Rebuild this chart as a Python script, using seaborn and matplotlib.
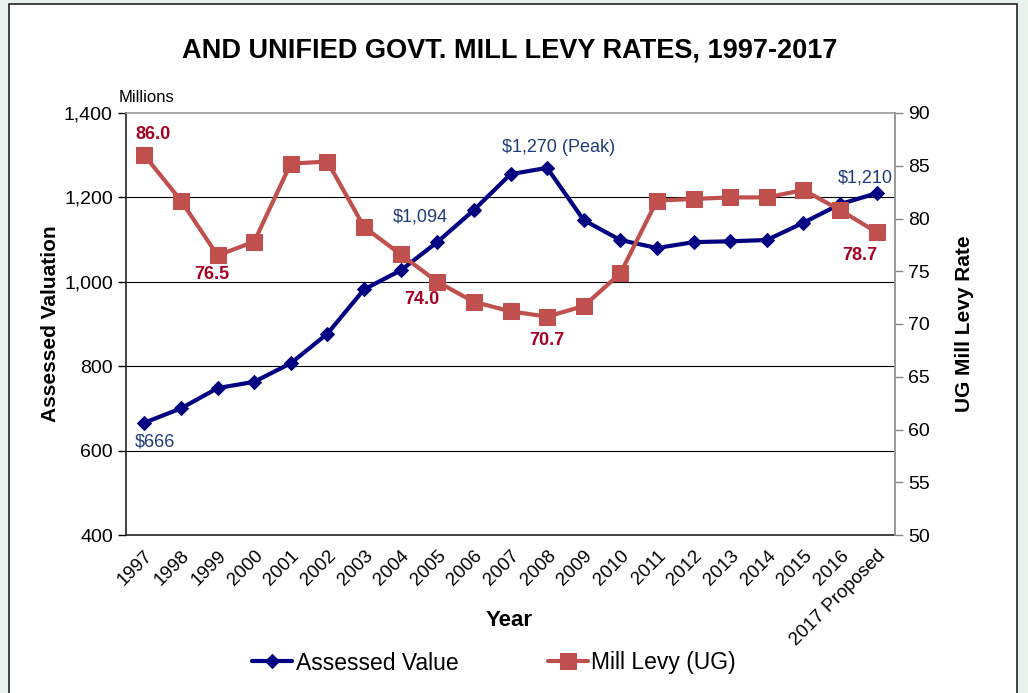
import numpy as np
import pandas as pd
import matplotlib
matplotlib.use('Agg')
import matplotlib.pyplot as plt
from matplotlib.patches import Rectangle
from matplotlib.ticker import FuncFormatter
from matplotlib.transforms import ScaledTranslation
import seaborn as sns

years = ['1997', '1998', '1999', '2000', '2001', '2002', '2003', '2004', '2005', '2006',
         '2007', '2008', '2009', '2010', '2011', '2012', '2013', '2014', '2015', '2016',
         '2017 Proposed']
assessed = [666, 700, 748, 763, 807, 877, 982, 1027, 1094, 1170,
            1255, 1270, 1146, 1099, 1080, 1094, 1096, 1099, 1140, 1184, 1210]
mill_levy = [86.0, 81.7, 76.5, 77.8, 85.2, 85.4, 79.2, 76.6, 74.0, 72.1,
             71.2, 70.7, 71.7, 74.8, 81.7, 81.85, 82.0, 82.0, 82.7, 80.8, 78.7]

# labelled points: (index, text, offset in points)
value_labels = [(0, '$666', (8, -14)), (8, '$1,094', (-12, 18)),
                (11, '$1,270 (Peak)', (8, 15)), (20, '$1,210', (-8, 11))]
levy_labels = [(0, '86.0', (6, 15)), (2, '76.5', (-4, -14)), (8, '74.0', (-11, -13)),
               (11, '70.7', (0, -17)), (20, '78.7', (-12, -17))]

df = pd.DataFrame({'pos': np.arange(len(years)), 'Year': years,
                   'Assessed Value': assessed, 'Mill Levy (UG)': mill_levy})

sns.set_style('white')
plt.rcParams['font.family'] = ['Liberation Sans', 'DejaVu Sans']
plt.rcParams['text.color'] = 'black'
plt.rcParams['axes.labelcolor'] = 'black'
plt.rcParams['xtick.color'] = 'black'
plt.rcParams['ytick.color'] = 'black'

fig = plt.figure(figsize=(10.28, 6.93), dpi=100)
fig.patch.set_facecolor('#e7f2ec')
fig.patches.append(Rectangle((9 / 1028, -0.01), 1008 / 1028, 1 - 4 / 693 + 0.01,
                             transform=fig.transFigure, facecolor='white',
                             edgecolor='#222222', linewidth=1.2, zorder=0))

ax = fig.add_axes([126 / 1028, 1 - 535 / 693, 769 / 1028, 422 / 693])
ax2 = ax.twinx()
ax.set_zorder(2)
ax2.set_zorder(3)
ax.patch.set_visible(False)

navy = '#000080'
red = '#c0504d'

sns.lineplot(data=df, x='pos', y='Assessed Value', ax=ax, color=navy, linewidth=3,
             marker='D', markersize=7, markeredgecolor=navy, label='Assessed Value',
             legend=False)
sns.lineplot(data=df, x='pos', y='Mill Levy (UG)', ax=ax2, color=red, linewidth=3,
             marker='s', markersize=11, markeredgecolor=red, label='Mill Levy (UG)',
             legend=False)

ax.set_xlim(-0.5, len(years) - 0.5)
ax.set_ylim(400, 1400)
ax2.set_ylim(50, 90)
ax.set_yticks([400, 600, 800, 1000, 1200, 1400])
ax.yaxis.set_major_formatter(FuncFormatter(lambda v, p: f'{int(v):,}'))
ax2.set_yticks(range(50, 91, 5))

for v in [600, 800, 1000, 1200]:
    ax.axhline(v, color='black', linewidth=0.8, zorder=0)

ax.set_xticks(df['pos'])
ax.set_xticklabels(years, rotation=45, ha='right', rotation_mode='anchor', fontsize=13.5)
shift = ScaledTranslation(-4 / 100, 0, fig.dpi_scale_trans)
for lbl in ax.get_xticklabels():
    lbl.set_transform(lbl.get_transform() + shift)
ax.set_xticks(np.arange(-0.5, len(years)), minor=True)
ax.tick_params(axis='x', which='major', length=0, pad=9)
ax.tick_params(axis='x', which='minor', length=5, width=1, color='#333333')
ax.tick_params(axis='y', length=6, width=1, labelsize=14, direction='out', left=True)
ax2.tick_params(axis='y', length=6, width=1, labelsize=14, direction='out', right=True,
                color='#888888')

for name, sp in ax.spines.items():
    sp.set_color('#222222' if name in ('left', 'bottom') else '#999999')
    sp.set_linewidth(1.2)
for name, sp in ax2.spines.items():
    sp.set_visible(name == 'right')
    sp.set_color('#999999')
    sp.set_linewidth(1.2)

ax.set_xlabel('')
ax.set_ylabel('Assessed Valuation', fontsize=15, fontweight='bold', labelpad=3)
ax2.set_ylabel('UG Mill Levy Rate', fontsize=15, fontweight='bold', labelpad=18)
fig.text(509 / 1028, 1 - 620 / 693, 'Year', ha='center', va='center', fontsize=16,
         fontweight='bold')
ax.text(-7 / 769, 1.018, 'Millions', transform=ax.transAxes, fontsize=12, ha='left',
        va='bottom')

for i, txt, off in value_labels:
    ax.annotate(txt, (i, assessed[i]), xytext=off, textcoords='offset points',
                ha='center', va='center', fontsize=13, color='#1f3c7a')
for i, txt, off in levy_labels:
    ax2.annotate(txt, (i, mill_levy[i]), xytext=off, textcoords='offset points',
                 ha='center', va='center', fontsize=13, fontweight='bold', color='#a50021')

fig.text(510 / 1028, 1 - 50 / 693, 'AND UNIFIED GOVT. MILL LEVY RATES, 1997-2017',
         ha='center', va='center', fontsize=19.5, fontweight='bold')

h1, l1 = ax.get_legend_handles_labels()
h2, l2 = ax2.get_legend_handles_labels()
fig.legend(h1 + h2, l1 + l2, loc='center', bbox_to_anchor=(494 / 1028, 1 - 663 / 693),
           ncol=2, frameon=False, fontsize=16.5, handlelength=1.75, handletextpad=0.15,
           columnspacing=3.9)

fig.savefig('out.png', dpi=100, facecolor=fig.get_facecolor())
